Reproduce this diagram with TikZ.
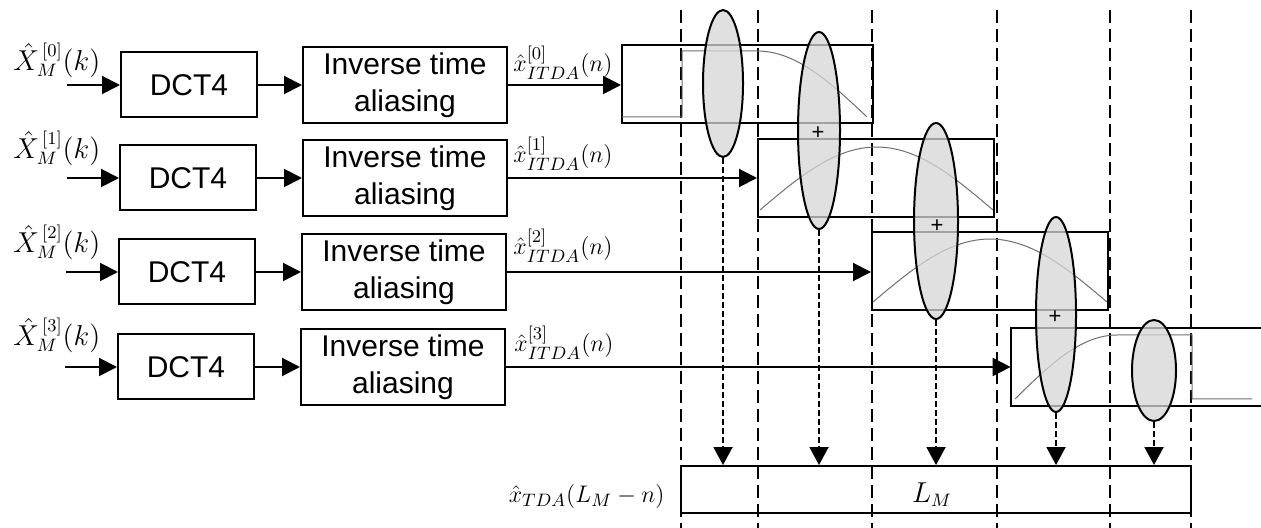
\documentclass[tikz,border=0pt]{standalone}
\usepackage{fontspec}
\newfontfamily\arialfont{Liberation Sans}
\usepackage{tikz}
\usetikzlibrary{arrows.meta,shapes.geometric}
\definecolor{shade}{HTML}{D6D6D6}
\definecolor{wave}{HTML}{6E6E6E}
\tikzset{block/.style={draw,line width=1pt,inner sep=0pt,align=center,font=\arialfont\fontsize{15}{18.5}\selectfont}, dctbox/.style={block,minimum width=68pt,minimum height=32.5pt}, itabox/.style={block,minimum width=102pt,minimum height=38pt}, wbox/.style={draw,line width=1pt,inner sep=0pt,minimum height=39pt}, lab/.style={inner sep=0pt,font=\fontsize{13.5}{16}\selectfont}, slab/.style={inner sep=0pt,font=\fontsize{12.5}{15}\selectfont}, lobe/.style={ellipse,draw,line width=1pt,fill=shade,fill opacity=0.75,inner sep=0pt}, sig/.style={-{Triangle[length=9pt,width=9pt]},line width=1pt}, merge/.style={-{Triangle[length=9pt,width=9.5pt]},dash pattern=on 3pt off 1.5pt,line width=1pt}, slot/.style={dash pattern=on 6.5pt off 3pt,line width=0.8pt}, win/.style={draw=wave,line width=0.5pt}, addmark/.style={inner sep=0pt,font=\arialfont\fontsize{11}{11}\selectfont}}

\begin{document}
\begin{tikzpicture}[x=0.5pt,y=-0.5pt]
\useasboundingbox (0,0) rectangle (1261,528);
% time slots
\foreach \gx in {681,758,872,997,1110,1191} \draw[slot] (\gx,10) -- (\gx,528);
% frame 0
\coordinate (in0) at (67,85);
\node[lab,anchor=base west] (X0) at (13,71) {${\hat{X}}_M^{\mkern3mu[0]}(k)$};
\node[dctbox] (dct0) at (189,85) {DCT4};
\node[itabox] (ita0) at (405,85) {Inverse time\\aliasing};
\node[slab,anchor=base west] (x0) at (513,72) {${\hat{x}}_{ITDA}^{[0]}(n)$};
\node[wbox,minimum width=125.5pt] (w0) at (747.5,84) {};
% frame 1
\coordinate (in1) at (67,178);
\node[lab,anchor=base west] (X1) at (13,159) {${\hat{X}}_M^{\mkern3mu[1]}(k)$};
\node[dctbox] (dct1) at (188,178) {DCT4};
\node[itabox] (ita1) at (405,178) {Inverse time\\aliasing};
\node[slab,anchor=base west] (x1) at (513,163) {${\hat{x}}_{ITDA}^{[1]}(n)$};
\node[wbox,minimum width=118pt] (w1) at (876,178) {};
% frame 2
\coordinate (in2) at (66,272);
\node[lab,anchor=base west] (X2) at (13,253) {${\hat{X}}_M^{\mkern3mu[2]}(k)$};
\node[dctbox] (dct2) at (187,272) {DCT4};
\node[itabox] (ita2) at (404,272) {Inverse time\\aliasing};
\node[slab,anchor=base west] (x2) at (513,255) {${\hat{x}}_{ITDA}^{[2]}(n)$};
\node[wbox,minimum width=118pt] (w2) at (990,271) {};
% frame 3
\coordinate (in3) at (65,367);
\node[lab,anchor=base west] (X3) at (13,346) {${\hat{X}}_M^{\mkern3mu[3]}(k)$};
\node[dctbox] (dct3) at (186,367) {DCT4};
\node[itabox] (ita3) at (403,367) {Inverse time\\aliasing};
\node[slab,anchor=base west] (x3) at (514,352) {${\hat{x}}_{ITDA}^{[3]}(n)$};
\node[inner sep=0pt,minimum width=125pt,minimum height=39pt] (w3) at (1136,367) {};
\draw[line width=1pt] (w3.north east) -- (w3.north west) -- (w3.south west) -- (w3.south east);
% windows
\draw[win] (622,117) -- (682,117) -- (682,51) -- (757,51) -- plot[domain=0:1,samples=30] ({757+110*\x},{117-66*cos(90*\x)});
\draw[win] plot[domain=0:1,samples=40] ({760+233*\x},{210-63*sin(180*\x)});
\draw[win] plot[domain=0:1,samples=40] ({873+234*\x},{302-63*sin(180*\x)});
\draw[win] plot[domain=0:1,samples=30] ({1015+102*\x},{399-64*sin(90*\x)}) -- (1192,335) -- (1192,399) -- (1252,399);
% overlap regions
\node[lobe,minimum width=20pt,minimum height=73.5pt] (e0) at (723,83.5) {};
\node[lobe,minimum width=21pt,minimum height=98.5pt] (e1) at (819,130.5) {};
\node[lobe,minimum width=22pt,minimum height=98pt] (e2) at (936,221) {};
\node[lobe,minimum width=20pt,minimum height=97.5pt] (e3) at (1056,314.5) {};
\node[lobe,minimum width=22pt,minimum height=50.5pt] (e4) at (1154,370.5) {};
\node[addmark] (p1) at (818,133) {+};
\node[addmark] (p2) at (937,226) {+};
\node[addmark] (p3) at (1055,317) {+};
% output
\node[wbox,minimum width=255pt,minimum height=23.5pt] (tda) at (936,489.5) {};
\node[lab,anchor=base] (LM) at (932,502) {$L_M$};
\node[slab,anchor=base east] (tdal) at (665,502) {${\hat{x}}_{TDA}(L_M-n)$};
% signal flow
\draw[sig] (in0) -- (dct0);
\draw[sig] (dct0) -- (ita0);
\draw[sig] (ita0.east) -- (ita0.east -| w0.west);
\draw[sig] (in1) -- (dct1);
\draw[sig] (dct1) -- (ita1);
\draw[sig] (ita1.east) -- (ita1.east -| w1.west);
\draw[sig] (in2) -- (dct2);
\draw[sig] (dct2) -- (ita2);
\draw[sig] (ita2.east) -- (ita2.east -| w2.west);
\draw[sig] (in3) -- (dct3);
\draw[sig] (dct3) -- (ita3);
\draw[sig] (ita3.east) -- (ita3.east -| w3.west);
\draw[merge] (e0.south) -- (e0.south |- tda.north);
\draw[merge] (e1.south) -- (e1.south |- tda.north);
\draw[merge] (e2.south) -- (e2.south |- tda.north);
\draw[merge] (e3.south) -- (e3.south |- tda.north);
\draw[merge] (e4.south) -- (e4.south |- tda.north);
\end{tikzpicture}
\end{document}
